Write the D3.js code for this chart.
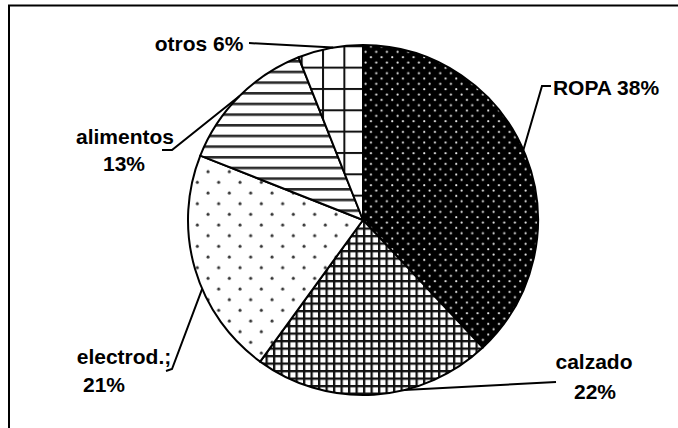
<!DOCTYPE html>
<meta charset="utf-8">
<script src="https://d3js.org/d3.v7.min.js"></script>
<style>
  body { margin: 0; background: #fff; }
  text { font-family: "Liberation Sans", Arial, sans-serif; font-weight: bold; font-size: 21px; fill: #000; }
</style>
<body>
<script>
// data
var categories = ["ROPA", "calzado", "electrod.;", "alimentos", "otros"];
var values = [38, 22, 21, 13, 6];
var labelLines = [["ROPA 38%"], ["calzado", "22%"], ["electrod.;", "21%"], ["alimentos", "13%"], ["otros 6%"]];

// label layout: centre x of each line, baselines, leader points on the label side
var labelLayout = [
  {x: [606], y: [95], lead: [[551, 86], [542, 86]], da: -2},
  {x: [594, 595], y: [369, 399], lead: [[556, 382]], da: -10},
  {x: [124, 104], y: [364, 392], lead: [[166, 371], [172, 369]], da: -7},
  {x: [125, 124], y: [144, 171], lead: [[162, 150], [172, 150]], da: 0},
  {x: [199], y: [51], lead: [[249, 43]], da: 1}
];
var patternIds = ["pRopa", "pCalzado", "pElectro", "pAlim", "pOtros"];

var width = 678, height = 428;
var cx = 363, cy = 220, r = 175;

var svg = d3.select("body").append("svg")
  .attr("width", width)
  .attr("height", height);

svg.append("rect").attr("width", width).attr("height", height).attr("fill", "#fff");

var defs = svg.append("defs");

// ROPA: black with white dots
var p = defs.append("pattern").attr("id", "pRopa").attr("patternUnits", "userSpaceOnUse")
  .attr("width", 10.667).attr("height", 10.667);
p.append("rect").attr("width", 10.667).attr("height", 10.667).attr("fill", "#000");
p.append("circle").attr("cx", 2.6).attr("cy", 2.6).attr("r", 1.1).attr("fill", "#e8e8e8");
p.append("circle").attr("cx", 7.93).attr("cy", 7.93).attr("r", 1.1).attr("fill", "#e8e8e8");

// calzado: small grid
var cz = 7.5;
p = defs.append("pattern").attr("id", "pCalzado").attr("patternUnits", "userSpaceOnUse")
  .attr("width", cz).attr("height", cz);
p.append("rect").attr("width", cz).attr("height", cz).attr("fill", "#fff");
p.append("rect").attr("width", 2.3).attr("height", cz).attr("fill", "#111");
p.append("rect").attr("width", cz).attr("height", 2.3).attr("fill", "#111");

// electrod.: sparse dots
p = defs.append("pattern").attr("id", "pElectro").attr("patternUnits", "userSpaceOnUse")
  .attr("width", 21.333).attr("height", 21.333);
p.append("rect").attr("width", 21.333).attr("height", 21.333).attr("fill", "#fff");
p.append("circle").attr("cx", 5).attr("cy", 5).attr("r", 1.5).attr("fill", "#333");
p.append("circle").attr("cx", 15.67).attr("cy", 15.67).attr("r", 1.5).attr("fill", "#333");

// alimentos: horizontal lines
p = defs.append("pattern").attr("id", "pAlim").attr("patternUnits", "userSpaceOnUse")
  .attr("width", 10.667).attr("height", 10.667);
p.append("rect").attr("width", 10.667).attr("height", 10.667).attr("fill", "#fff");
p.append("rect").attr("y", 0).attr("width", 10.667).attr("height", 2.6).attr("fill", "#2a2a2a");

// otros: large grid
p = defs.append("pattern").attr("id", "pOtros").attr("patternUnits", "userSpaceOnUse")
  .attr("x", 1.7).attr("y", 17.3)
  .attr("width", 21.333).attr("height", 21.333);
p.append("rect").attr("width", 21.333).attr("height", 21.333).attr("fill", "#fff");
p.append("rect").attr("width", 2).attr("height", 21.333).attr("fill", "#111");
p.append("rect").attr("width", 21.333).attr("height", 2).attr("fill", "#111");

// frame (runs off the right and bottom)
svg.append("rect")
  .attr("x", 9).attr("y", 5.5)
  .attr("width", 720).attr("height", 460)
  .attr("fill", "none").attr("stroke", "#000").attr("stroke-width", 2);

var pie = d3.pie().sort(null).value(function(d) { return d; });
var arcs = pie(values);
var arc = d3.arc().innerRadius(0).outerRadius(r);

var g = svg.append("g").attr("transform", "translate(" + cx + "," + cy + ")");

g.selectAll("path.slice")
  .data(arcs)
  .enter().append("path")
    .attr("class", "slice")
    .attr("d", arc)
    .attr("fill", function(d, i) { return "url(#" + patternIds[i] + ")"; })
    .attr("stroke", "#000")
    .attr("stroke-width", 2)
    .attr("stroke-linejoin", "round");

// leader lines
arcs.forEach(function(d, i) {
  var L = labelLayout[i];
  var a = (d.startAngle + d.endAngle) / 2 + L.da * Math.PI / 180;
  var end = [cx + r * Math.sin(a), cy - r * Math.cos(a)];
  var pts = L.lead.concat([end]);
  svg.append("path")
    .attr("d", d3.line()(pts))
    .attr("fill", "none")
    .attr("stroke", "#000")
    .attr("stroke-width", 2);
});

// labels
labelLines.forEach(function(lines, i) {
  var L = labelLayout[i];
  lines.forEach(function(t, j) {
    svg.append("text")
      .attr("x", L.x[j])
      .attr("y", L.y[j])
      .attr("text-anchor", "middle")
      .text(t);
  });
});
</script>
</body>
